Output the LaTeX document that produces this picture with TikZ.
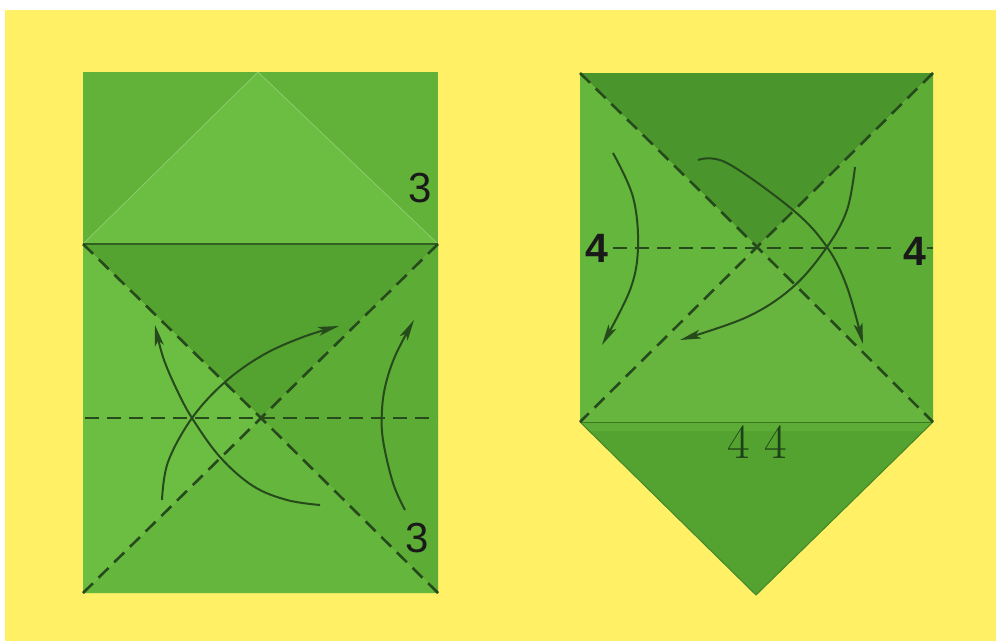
\documentclass[tikz,border=0pt]{standalone}
\usepackage{fontspec}
\newfontfamily\labelfont{Liberation Sans}
\usetikzlibrary{arrows.meta}
\definecolor{bgyellow}{RGB}{255,240,102}
\definecolor{gLight}{RGB}{108,190,66}
\definecolor{gLightB}{RGB}{100,182,60}
\definecolor{gMid}{RGB}{92,172,54}
\definecolor{gMidB}{RGB}{84,162,48}
\definecolor{gDark}{RGB}{74,150,44}
\definecolor{gCorner}{RGB}{98,178,58}
\definecolor{inkgreen}{RGB}{38,74,28}
\definecolor{outlinegreen}{RGB}{30,66,24}
\tikzset{
  foldline/.style={draw=inkgreen, line width=2.6pt, dash pattern=on 14pt off 8pt},
  edgeline/.style={draw=inkgreen!80!gMid, line width=1.4pt},
  turnarrow/.style={draw=inkgreen, line width=2pt, -{Stealth[length=21pt,width=9pt,inset=5pt]}},
  numlabel/.style={font=\labelfont\fontsize{42}{42}\selectfont, text=black!90, inner sep=0pt},
  boldlabel/.style={font=\labelfont\bfseries\fontsize{41}{41}\selectfont, text=black!90, inner sep=0pt}
}
\begin{document}
\begin{tikzpicture}[x=1pt,y=-1pt]
% background
\fill[white] (0,0) rectangle (996,641);
\fill[bgyellow] (5,10) rectangle (996,641);
\useasboundingbox (0,0) rectangle (996,641);

% ---------------- left sheet ----------------
\coordinate (LTL) at (83,72);
\coordinate (LTR) at (438,72);
\coordinate (LML) at (83,244);
\coordinate (LMR) at (438,244);
\coordinate (LBL) at (83,593);
\coordinate (LBR) at (438,593);
\coordinate (LApex) at (258,72);
\coordinate (LX) at (261,418);

% top part
\fill[gCorner] (LTL) rectangle (LMR);
\fill[gLight] (LApex) -- (LML) -- (LMR) -- cycle;
\draw[gLight!75!white, line width=0.7pt] (LML) -- (LApex) -- (LMR);
% lower part
\fill[gMidB] (LML) -- (LMR) -- (LX) -- cycle;
\fill[gLight] (LML) -- (LX) -- (LBL) -- cycle;
\fill[gLightB] (LBL) -- (LX) -- (LBR) -- cycle;
\fill[gMid] (LMR) -- (LX) -- (LBR) -- cycle;
\draw[edgeline] (LML) -- (LMR);

% fold lines
\draw[foldline] (LML) -- (LX) -- (LBR);
\draw[foldline] (LMR) -- (LX) -- (LBL);
\draw[foldline] (85,418) -- (437,418);

% arrows
\draw[turnarrow] plot[smooth, tension=0.6] coordinates {(320,505) (287,500) (253,486) (220,457) (192,418) (176,388) (163,357) (155,325)};
\draw[turnarrow] plot[smooth, tension=0.6] coordinates {(162,500) (168,462) (192,418) (225,382) (263,355) (303,337) (339,326)};
\draw[turnarrow] plot[smooth, tension=0.6] coordinates {(405,510) (393,483) (383,440) (382,410) (386,383) (396,354) (414,320)};

\node[numlabel] (three1) at (420,188) {3};
\node[numlabel] (three2) at (417,538) {3};

% ---------------- right sheet ----------------
\coordinate (RTL) at (580,73);
\coordinate (RTR) at (933,73);
\coordinate (RBL) at (580,422);
\coordinate (RBR) at (933,422);
\coordinate (RX) at (757,247);
\coordinate (RTip) at (756,595);

\fill[gDark] (RTL) -- (RTR) -- (RX) -- cycle;
\fill[gLightB] (RTL) -- (RX) -- (RBL) -- cycle;
\fill[gMid] (RTR) -- (RX) -- (RBR) -- cycle;
\fill[gLight!95!black] (RBL) -- (RX) -- (RBR) -- cycle;
\fill[gMidB] (RBL) -- (RBR) -- (RTip) -- cycle;
\fill[gMid] (RBL) -- (RBR) -- ([yshift=-9pt,xshift=-9pt]RBR) -- ([yshift=-9pt,xshift=9pt]RBL) -- cycle;
\draw[gDark!80!black, line width=0.9pt] (RBL) -- (RBR);
\draw[gDark!90!black, line width=1pt] (RBL) -- (RTip) -- (RBR);

\draw[foldline] (RTL) -- (RX) -- (RBR);
\draw[foldline] (RTR) -- (RX) -- (RBL);
\draw[foldline] (613,248) -- (899,248);
\draw[foldline] (927,248) -- (933,248);

\draw[turnarrow] plot[smooth, tension=0.6] coordinates {(613,153) (633,197) (638,247) (630,290) (602,345)};
\draw[turnarrow] plot[smooth, tension=0.6] coordinates {(698,160) (727,163) (793,210) (827,247) (847,287) (863,344)};
\draw[turnarrow] plot[smooth, tension=0.6] coordinates {(855,167) (847,210) (827,247) (793,287) (747,317) (680,340)};

\node[boldlabel] (four1) at (597,248) {4};
\node[boldlabel] (four2) at (915,251) {4};
\node[inner sep=0pt, font=\fontsize{49}{49}\selectfont, text=outlinegreen] (foursB) at (757,442) {4 4};
\end{tikzpicture}
\end{document}
